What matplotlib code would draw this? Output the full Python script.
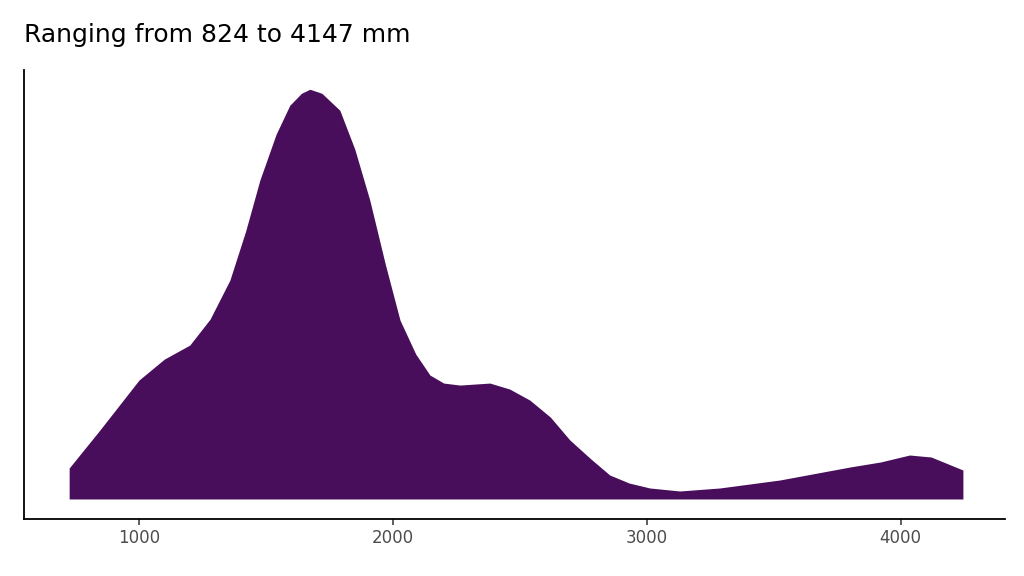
import matplotlib
matplotlib.use("Agg")
import matplotlib.pyplot as plt
import numpy as np

rain_mm = [725, 846, 1000, 1100, 1200, 1280, 1358, 1420, 1476, 1540, 1594, 1640, 1673, 1720, 1791, 1850, 1909, 1970, 2028, 2090, 2146, 2200, 2264, 2382, 2460, 2539, 2620, 2697, 2780, 2854, 2930, 3012, 3130, 3287, 3524, 3800, 3920, 4035, 4120, 4245]
density = [31, 69, 119, 140, 154, 180, 219, 268, 319, 365, 394, 406, 410, 406, 389, 350, 299, 235, 179, 145, 124, 116, 114, 116, 110, 99, 82, 59, 40, 24, 16, 11, 8, 11, 19, 32, 37, 44, 42, 29]
xticks = [1000, 2000, 3000, 4000]

fig = plt.figure(figsize=(10.24, 5.76), dpi=100)
ax = fig.add_axes([0.0234, 0.099, 0.9576, 0.779])
ax.fill_between(rain_mm, 0, density, color='#480E5C', linewidth=0)
ax.set_xlim(547, 4409)
ax.set_ylim(-20, 429)
ax.set_xticks(xticks)
ax.set_xticklabels([str(t) for t in xticks], fontsize=12, color='#4D4D4D')
ax.set_yticks([])
for s in ['top', 'right']:
    ax.spines[s].set_visible(False)
for s in ['left', 'bottom']:
    ax.spines[s].set_linewidth(1.3)
ax.tick_params(axis='x', length=4, width=1.1, color='#333333')
fig.text(0.0234, 0.94, "Ranging from 824 to 4147 mm", fontsize=18, ha='left', va='center')
fig.savefig("out.png", dpi=100)
